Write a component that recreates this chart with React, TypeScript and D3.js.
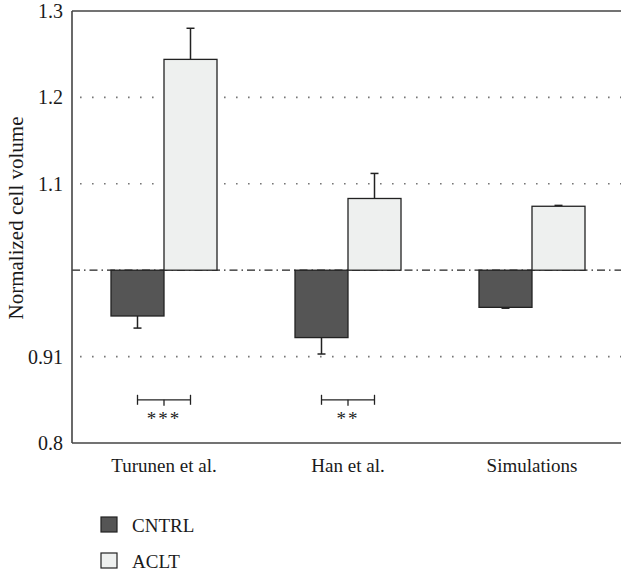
import React from 'react';
import * as d3 from 'd3';

const categories = ['Turunen et al.', 'Han et al.', 'Simulations'];
const seriesNames = ['CNTRL', 'ACLT'];
const cntrlValues = [0.947, 0.922, 0.957];
const cntrlErrors = [0.014, 0.019, 0.001];
const acltValues = [1.244, 1.083, 1.074];
const acltErrors = [0.036, 0.029, 0.001];
const seriesColors = ['#555555', '#eef0ef'];
const tickValues = [0.8, 0.9, 1.1, 1.2, 1.3];
const tickLabels = ['0.8', '0.91', '1.1', '1.2', '1.3'];
const gridValues = [0.9, 1.1, 1.2];
const baseline = 1.0;
const significance = [
  { category: 'Turunen et al.', level: 0.85, stars: '***' },
  { category: 'Han et al.', level: 0.85, stars: '**' },
];

const W = 621;
const H = 571;
const margin = { top: 11, left: 72, bottom: 128 };
const plotRight = 660;
const font = '"Liberation Serif", "DejaVu Serif", serif';

export default function App() {
  const y = d3.scaleLinear().domain([0.8, 1.3]).range([H - margin.bottom, margin.top]);
  const x = d3.scaleBand().domain(categories).range([margin.left, margin.left + 3 * 184]);
  const barW = 53;
  const stroke = '#222';

  const series = [
    { name: seriesNames[0], values: cntrlValues, errors: cntrlErrors, color: seriesColors[0], offset: -1 },
    { name: seriesNames[1], values: acltValues, errors: acltErrors, color: seriesColors[1], offset: 0 },
  ];

  const y0 = y(baseline);
  const bottom = y(0.8);

  return (
    <svg width={W} height={H} style={{ position: 'absolute', left: 0, top: 0, background: '#fff' }} fontFamily={font}>
      {/* grid */}
      {gridValues.map(v => (
        <line key={v} x1={margin.left + 8} x2={plotRight} y1={y(v)} y2={y(v)} stroke="#777" strokeWidth={1.6} strokeDasharray="1.6 10.4" />
      ))}
      {/* baseline dash-dot */}
      <line x1={margin.left} x2={plotRight} y1={y0} y2={y0} stroke="#222" strokeWidth={1.3} strokeDasharray="8 4 1.5 4" />

      {/* bars */}
      {series.map(s => (
        <g key={s.name}>
          {categories.map((c, i) => {
            const cx = (x(c) as number) + x.bandwidth() / 2;
            const bx = cx + s.offset * barW;
            const v = s.values[i];
            const top = Math.min(y(v), y0);
            const h = Math.abs(y(v) - y0);
            const errV = v >= baseline ? v + s.errors[i] : v - s.errors[i];
            const mid = bx + barW / 2;
            return (
              <g key={c}>
                <line x1={mid} x2={mid} y1={y(v)} y2={y(errV)} stroke={stroke} strokeWidth={1.5} />
                <line x1={mid - 4} x2={mid + 4} y1={y(errV)} y2={y(errV)} stroke={stroke} strokeWidth={1.5} />
                <rect x={bx} y={top} width={barW} height={h} fill={s.color} stroke={stroke} strokeWidth={1.3} />
              </g>
            );
          })}
        </g>
      ))}

      {/* significance brackets */}
      {significance.map(sg => {
        const cx = (x(sg.category) as number) + x.bandwidth() / 2;
        const x1 = cx - barW / 2;
        const x2 = cx + barW / 2;
        const yy = y(sg.level);
        return (
          <g key={sg.category}>
            <line x1={x1} x2={x2} y1={yy} y2={yy} stroke={stroke} strokeWidth={1.3} />
            <line x1={x1} x2={x1} y1={yy - 5} y2={yy + 5} stroke={stroke} strokeWidth={1.3} />
            <line x1={x2} x2={x2} y1={yy - 5} y2={yy + 5} stroke={stroke} strokeWidth={1.3} />
            <line x1={cx} x2={cx} y1={yy} y2={yy + 6} stroke={stroke} strokeWidth={1.3} />
            <text x={cx} y={yy + 25} textAnchor="middle" fontSize={19} fill="#222" letterSpacing={2}>{sg.stars}</text>
          </g>
        );
      })}

      {/* frame */}
      <line x1={margin.left} x2={margin.left} y1={margin.top} y2={bottom} stroke="#444" strokeWidth={1.6} />
      <line x1={margin.left} x2={plotRight} y1={margin.top} y2={margin.top} stroke="#444" strokeWidth={1.6} />
      <line x1={margin.left} x2={plotRight} y1={bottom} y2={bottom} stroke="#444" strokeWidth={1.6} />

      {/* y tick labels */}
      {tickValues.map((v, i) => (
        <text key={v} x={63} y={y(v)} dy="0.35em" textAnchor="end" fontSize={20} fill="#1a1a1a">{tickLabels[i]}</text>
      ))}
      <text transform={`translate(23, 218) rotate(-90)`} textAnchor="middle" fontSize={21} fill="#1a1a1a">Normalized cell volume</text>

      {/* category labels */}
      {categories.map(c => (
        <text key={c} x={(x(c) as number) + x.bandwidth() / 2} y={bottom + 29} textAnchor="middle" fontSize={19} fill="#1a1a1a">{c}</text>
      ))}

      {/* legend */}
      {seriesNames.map((n, i) => (
        <g key={n} transform={`translate(101, ${517 + i * 36})`}>
          <rect x={0} y={0} width={16} height={15} fill={seriesColors[i]} stroke={stroke} strokeWidth={1.2} />
          <text x={31} y={15} fontSize={19} fill="#1a1a1a">{n}</text>
        </g>
      ))}
    </svg>
  );
}
